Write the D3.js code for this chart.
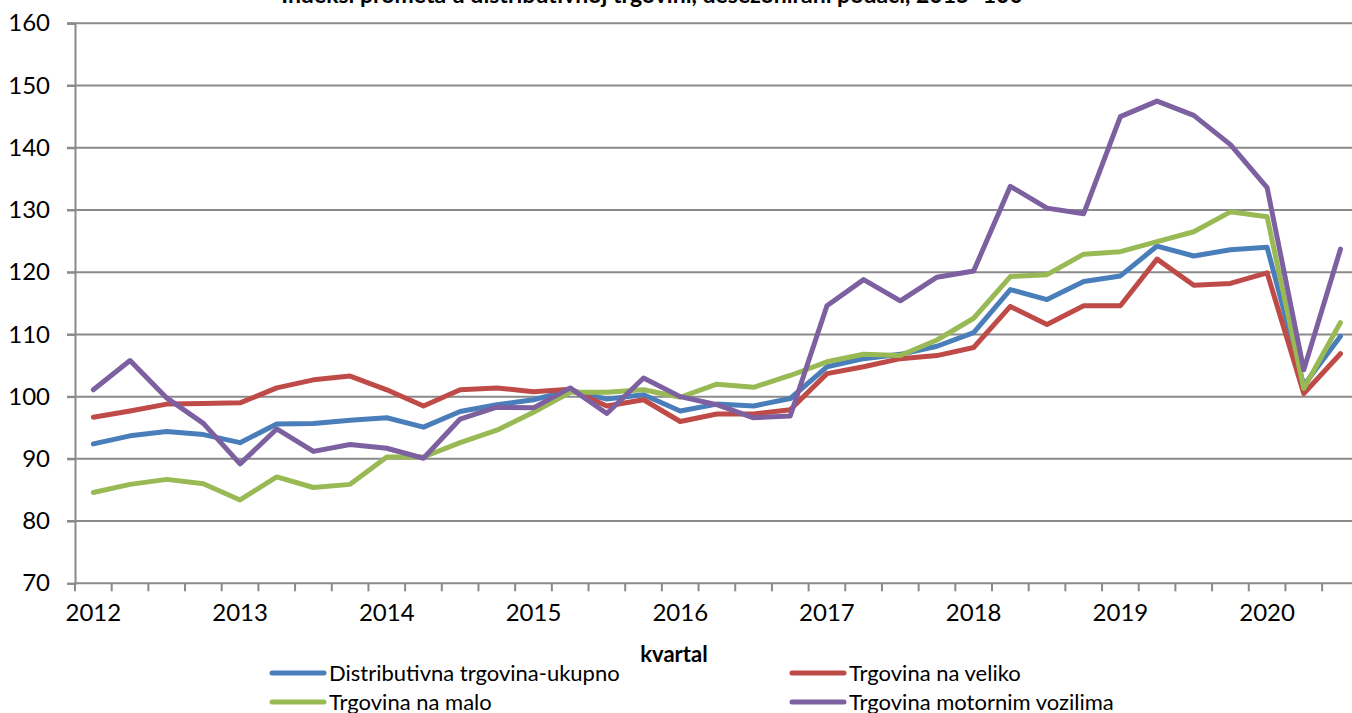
<!DOCTYPE html>
<html>
<head>
<meta charset="utf-8">
<script src="https://cdn.jsdelivr.net/npm/d3@7"></script>
<style>
  body { margin: 0; background: #fff; }
  svg { display: block; font-family: Lato, "Open Sans", sans-serif; }
</style>
</head>
<body>
<div id="chart"></div>
<script>
// godine i kvartali (2012 Q1 - 2020 Q3)
const godine = ["2012", "2013", "2014", "2015", "2016", "2017", "2018", "2019", "2020"];
const kvartali = [];
godine.forEach(g => [1, 2, 3, 4].forEach(q => kvartali.push(g + "-Q" + q)));
kvartali.length = 35;

const yTicks = [70, 80, 90, 100, 110, 120, 130, 140, 150, 160];

const ukupno = [92.4, 93.7, 94.4, 93.9, 92.6, 95.6, 95.7, 96.2, 96.6, 95.1,
  97.6, 98.7, 99.5, 101.0, 99.6, 100.3, 97.7, 98.8, 98.5, 99.7,
  104.8, 106.1, 106.8, 108.1, 110.3, 117.2, 115.6, 118.5, 119.4, 124.2,
  122.6, 123.6, 124.0, 101.8, 109.7];
const naVeliko = [96.7, 97.7, 98.8, 98.9, 99.0, 101.4, 102.7, 103.3, 101.1, 98.5,
  101.1, 101.4, 100.8, 101.2, 98.5, 99.5, 96.0, 97.2, 97.2, 97.9,
  103.7, 104.8, 106.1, 106.6, 107.9, 114.5, 111.6, 114.6, 114.6, 122.1,
  117.9, 118.2, 119.9, 100.5, 106.9];
const naMalo = [84.6, 85.9, 86.7, 86.0, 83.4, 87.1, 85.4, 85.9, 90.3, 90.3,
  92.6, 94.6, 97.5, 100.7, 100.7, 101.1, 99.9, 102.0, 101.5, 103.4,
  105.6, 106.8, 106.6, 109.1, 112.6, 119.3, 119.6, 122.9, 123.3, 124.9,
  126.5, 129.7, 128.9, 101.3, 111.9];
const motorna = [101.1, 105.8, 99.8, 95.7, 89.2, 94.8, 91.2, 92.3, 91.7, 90.1,
  96.4, 98.3, 98.2, 101.4, 97.3, 103.0, 100.0, 98.7, 96.6, 96.9,
  114.6, 118.8, 115.4, 119.2, 120.2, 133.8, 130.3, 129.4, 145.0, 147.5,
  145.2, 140.5, 133.6, 104.3, 123.7];

const serije = [
  { name: "Distributivna trgovina-ukupno", values: ukupno, color: "#4A7EBB" },
  { name: "Trgovina na veliko", values: naVeliko, color: "#BE4B48" },
  { name: "Trgovina na malo", values: naMalo, color: "#98B954" },
  { name: "Trgovina motornim vozilima", values: motorna, color: "#7D60A0" }
];

const width = 1352, height = 713;
const svg = d3.select("#chart").append("svg")
  .attr("width", width).attr("height", height);

const plotLeft = 75, plotTop = 23.3, plotBottom = 583.3;
const x = d3.scaleBand().domain(kvartali).range([plotLeft, plotLeft + 35 * 36.68]).padding(0);
const y = d3.scaleLinear().domain([70, 160]).range([plotBottom, plotTop]);
const cx = d => x(d) + x.bandwidth() / 2;

// naslov (odrezan na vrhu, kao u izvorniku)
svg.append("text")
  .attr("x", 652).attr("y", 3)
  .attr("text-anchor", "middle")
  .attr("font-weight", "bold").attr("font-size", 23)
  .text("Indeksi prometa u distributivnoj trgovini, desezonirani podaci, 2015=100");

// horizontalne linije mreze
svg.append("g")
  .selectAll("line").data(yTicks.slice(1)).join("line")
  .attr("x1", plotLeft - 8).attr("x2", width)
  .attr("y1", d => y(d)).attr("y2", d => y(d))
  .attr("stroke", "#8a8a8a").attr("stroke-width", 2);

// y os
const yAxis = svg.append("g")
  .attr("transform", `translate(${plotLeft},0)`)
  .call(d3.axisLeft(y).tickValues(yTicks).tickSize(8).tickPadding(17));
yAxis.select(".domain").attr("stroke", "#8a8a8a").attr("stroke-width", 2);
yAxis.selectAll(".tick line").attr("stroke", "#8a8a8a").attr("stroke-width", 2);
yAxis.selectAll("text").attr("font-size", 24).attr("fill", "#000")
  .attr("font-family", "Lato, sans-serif");

// x os
const xAxis = svg.append("g")
  .attr("transform", `translate(0,${plotBottom})`)
  .call(d3.axisBottom(x).tickSize(0).tickFormat(d => d.endsWith("Q1") ? d.slice(0, 4) : ""));
xAxis.select(".domain").remove();
xAxis.append("line")
  .attr("x1", plotLeft).attr("x2", width)
  .attr("stroke", "#8a8a8a").attr("stroke-width", 2);
xAxis.selectAll(".tick text").attr("font-size", 24).attr("fill", "#000")
  .attr("dy", "1.45em").attr("font-family", "Lato, sans-serif");
xAxis.append("g").selectAll("line").data(kvartali).join("line")
  .attr("x1", d => x(d)).attr("x2", d => x(d))
  .attr("y1", 0).attr("y2", 8)
  .attr("stroke", "#8a8a8a").attr("stroke-width", 2);

// linije
const line = d3.line()
  .x((d, i) => cx(kvartali[i]))
  .y(d => y(d));
svg.append("g").selectAll("path").data(serije).join("path")
  .attr("fill", "none")
  .attr("stroke", d => d.color)
  .attr("stroke-width", 5)
  .attr("stroke-linejoin", "round")
  .attr("stroke-linecap", "round")
  .attr("d", d => line(d.values));

// naslov x osi
svg.append("text")
  .attr("x", 674).attr("y", 662)
  .attr("text-anchor", "middle")
  .attr("font-weight", "bold").attr("font-size", 22)
  .text("kvartal");

// legenda
const legPos = [[270, 673], [790, 673], [270, 702], [790, 702]];
const leg = svg.append("g").selectAll("g").data(serije).join("g")
  .attr("transform", (d, i) => `translate(${legPos[i][0]},${legPos[i][1]})`);
leg.append("line")
  .attr("x1", 2).attr("x2", 54)
  .attr("stroke", d => d.color).attr("stroke-width", 5)
  .attr("stroke-linecap", "round");
leg.append("text")
  .attr("x", 59).attr("dy", "0.36em")
  .attr("font-size", 22)
  .text(d => d.name);
</script>
</body>
</html>
